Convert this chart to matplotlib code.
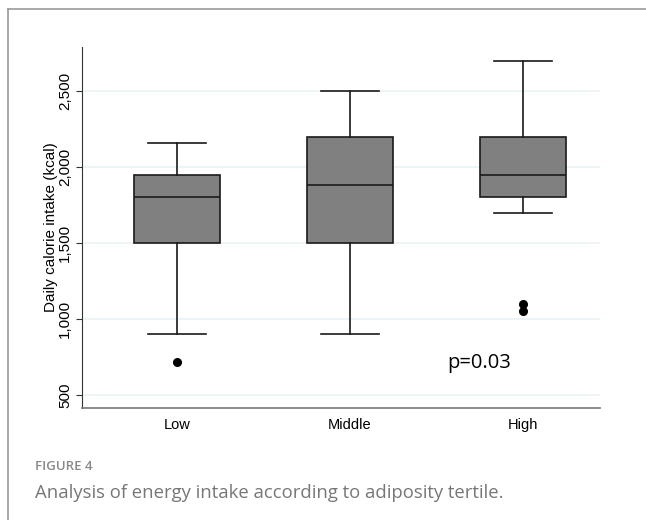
import matplotlib
matplotlib.use("Agg")
import matplotlib.pyplot as plt
from matplotlib.lines import Line2D

categories = ["Low", "Middle", "High"]
whislo = [900, 900, 1700]
q1 = [1500, 1500, 1800]
med = [1800, 1880, 1950]
q3 = [1945, 2195, 2195]
whishi = [2160, 2500, 2700]
outliers = [[720], [], [1100, 1050]]
yticks = [500, 1000, 1500, 2000, 2500]
ytick_labels = ["500", "1,000", "1,500", "2,000", "2,500"]

fig = plt.figure(figsize=(6.46, 5.2), dpi=100)
ax = fig.add_axes([82/646, 1-408/520, (600-82)/646, (408-47)/520])

stats = []
for i, c in enumerate(categories):
    stats.append(dict(label=c, whislo=whislo[i], q1=q1[i], med=med[i], q3=q3[i],
                      whishi=whishi[i], fliers=outliers[i]))

ax.bxp(stats, positions=[1, 2, 3], widths=0.5, patch_artist=True,
       boxprops=dict(facecolor="#808080", edgecolor="#1a1a1a", linewidth=1.2),
       medianprops=dict(color="#1a1a1a", linewidth=1.2),
       whiskerprops=dict(color="#1a1a1a", linewidth=1.2),
       capprops=dict(color="#1a1a1a", linewidth=1.2),
       capwidths=0.335,
       flierprops=dict(marker="o", markerfacecolor="black", markeredgecolor="black",
                       markersize=5.5))

ax.set_xlim(1 - 95/173, 3 + 77/173)
ax.set_ylim(414, 2790)
ax.set_yticks(yticks)
ax.set_yticklabels(ytick_labels, rotation=90, va="center", fontsize=11,
                   family="Liberation Sans")
ax.set_xticks([1, 2, 3])
ax.set_xticklabels(categories, fontsize=10.5, family="Liberation Sans")
ax.tick_params(axis="x", length=0, pad=7)
ax.tick_params(axis="y", length=4, color="#333333", width=0.8, pad=3)
ax.yaxis.grid(True, color="#eaf2f3", linewidth=1.2)
ax.set_axisbelow(True)
for s in ["top", "right"]:
    ax.spines[s].set_visible(False)
ax.spines["left"].set_color("#333333")
ax.spines["bottom"].set_color("#777777")
ax.spines["bottom"].set_linewidth(1.2)
ax.set_ylabel("Daily calorie intake (kcal)", fontsize=11, family="Liberation Sans",
              labelpad=0)

ax.text(2.56, 710, "p=0.03", fontsize=14.5, family="Open Sans", va="center",
        ha="left")

# figure frame (top and left edges)
fig.add_artist(Line2D([8/646, 1.0], [1-9/520, 1-9/520], transform=fig.transFigure,
                      color="#999999", linewidth=1.2))
fig.add_artist(Line2D([8/646, 8/646], [0, 1-9/520], transform=fig.transFigure,
                      color="#999999", linewidth=1.2))

fig.text(35/646, 1-466/520, "FIGURE 4", fontsize=9.5, color="#888888",
         family="Open Sans", fontweight="semibold", va="center", ha="left")
fig.text(35/646, 1-493/520, "Analysis of energy intake according to adiposity tertile.",
         fontsize=13.3, color="#777777", family="Open Sans", va="center", ha="left")

fig.savefig("out.png", dpi=100)
